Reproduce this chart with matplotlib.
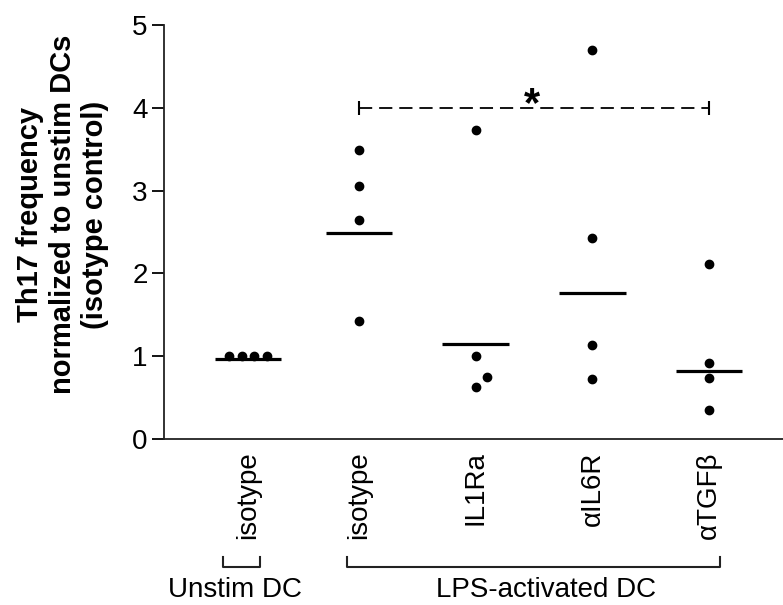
import matplotlib
matplotlib.use("Agg")
import matplotlib.pyplot as plt
import numpy as np

plt.rcParams['font.family'] = ['Liberation Sans', 'DejaVu Sans']
plt.rcParams['lines.scale_dashes'] = False

# groups and tick labels
groups = ["isotype", "isotype", "IL1Ra", "\u03b1IL6R", "\u03b1TGF\u03b2"]
x_pos = [0.05, 1, 2, 3, 4]

# points per group, with small horizontal offsets
vals = [
    [1.0, 1.0, 1.0, 1.0],
    [3.49, 3.05, 2.65, 1.42],
    [3.73, 1.0, 0.75, 0.63],
    [4.70, 2.43, 1.14, 0.72],
    [2.11, 0.92, 0.74, 0.35],
]
offs = [
    [-0.16, -0.055, 0.05, 0.16],
    [0, 0, 0, 0],
    [0, 0, 0.1, 0],
    [0, 0, 0, 0],
    [0, 0, 0, 0],
]
medians = [0.96, 2.49, 1.15, 1.76, 0.82]

fig = plt.figure(figsize=(7.83, 6.05), dpi=100)
ax = fig.add_axes([0.2098, 0.2744, 0.7902, 0.6843])

for xp, v, o, m in zip(x_pos, vals, offs, medians):
    ax.plot(xp + np.array(o), v, "o", color="black", markersize=6, zorder=3)
    ax.plot([xp - 0.285, xp + 0.285], [m, m], color="black", linewidth=2.3,
            solid_capstyle="butt")

# significance line
ax.plot([1, 4], [4, 4], color="black", linewidth=1.3, dashes=(9.5, 5))
ax.plot([1, 4], [4, 4], linestyle="none", marker="|", markersize=10,
        markeredgewidth=1.5, color="black")
ax.text(2.48, 4.03, "*", fontsize=30, fontweight="bold", ha="center",
        va="center")

ax.set_xlim(-0.668, 4.633)
ax.set_ylim(0, 5)
ax.set_yticks(range(6))
ax.tick_params(axis="y", labelsize=20, length=9, width=1.3, pad=3)
ax.set_xticks(x_pos)
ax.set_xticklabels(groups, rotation=90, fontsize=20, va="top")
ax.tick_params(axis="x", length=0, pad=9)
for s in ["top", "right"]:
    ax.spines[s].set_visible(False)
ax.spines["left"].set_linewidth(1.3)
ax.spines["bottom"].set_linewidth(1.3)
ax.spines["left"].set_color("#222222")
ax.spines["bottom"].set_color("#222222")

# group brackets
tr = ax.get_xaxis_transform()
for x0, x1 in [(-0.165, 0.152), (0.897, 4.093)]:
    ax.plot([x0, x0, x1, x1], [-0.285, -0.31, -0.31, -0.285], color="#222222",
            linewidth=1.5, transform=tr, clip_on=False)
ax.text(-0.06, -0.382, "Unstim DC", fontsize=20, ha="center", va="baseline",
        transform=tr)
ax.text(2.6, -0.382, "LPS-activated DC", fontsize=20, ha="center",
        va="baseline", transform=tr)

fig.text(0.08, 0.645, "Th17 frequency\nnormalized to unstim DCs\n(isotype control)",
         rotation=90, ha="center", va="center", fontsize=21, fontweight="bold",
         linespacing=1.2)

fig.savefig("out.png", dpi=100)
